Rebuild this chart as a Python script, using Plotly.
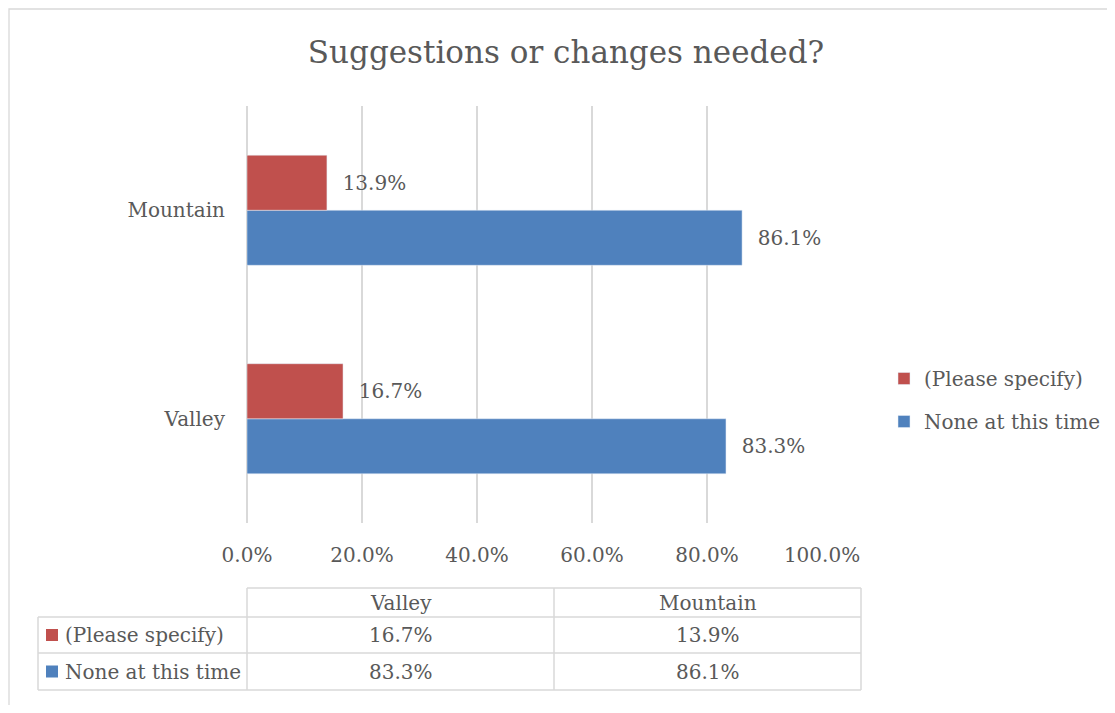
import plotly.graph_objects as go

# ---- data ----
categories = ["Valley", "Mountain"]
series_names = ["(Please specify)", "None at this time"]
please_specify = [0.167, 0.139]
none_at_this_time = [0.833, 0.861]
tick_values = [0.0, 0.2, 0.4, 0.6, 0.8, 1.0]

# ---- style ----
RED = "#C0504D"
BLUE = "#4F81BD"
TXT = "#595959"
GRID = "#D9D9D9"
FONT = "DejaVu Serif"

OFF = 8  # page body margin
W, H = 1115 - 2 * OFF, 713 - 2 * OFF
# target plot area in screen pixels: x 247..822, y 106..523
L = 247 - OFF
T = 106 - OFF
R = W - (822 - OFF)
B = H - (523 - OFF)
PW, PH = W - L - R, H - T - B


def px(x):
    """screen pixel x -> paper coord"""
    return (x - OFF - L) / PW


def py(y):
    """screen pixel y -> paper coord"""
    return (H - B - (y - OFF)) / PH


fig = go.Figure()
fig.add_trace(go.Bar(
    y=categories, x=none_at_this_time, name=series_names[1], orientation="h",
    marker=dict(color=BLUE), legendgroup="b", legendrank=2,
    text=none_at_this_time, texttemplate="\u00a0\u00a0%{x:.1%}", textposition="outside",
    textfont=dict(family=FONT, size=20, color=TXT), cliponaxis=False,
))
fig.add_trace(go.Bar(
    y=categories, x=please_specify, name=series_names[0], orientation="h",
    marker=dict(color=RED), legendgroup="a", legendrank=1,
    text=please_specify, texttemplate="\u00a0\u00a0%{x:.1%}", textposition="outside",
    textfont=dict(family=FONT, size=20, color=TXT), cliponaxis=False,
))

shapes = []
annotations = []

# outer chart border
shapes.append(dict(type="rect", xref="paper", yref="paper",
                   x0=px(9), x1=px(1130), y0=py(730), y1=py(9),
                   line=dict(color=GRID, width=1.3), layer="below"))

# data table
col_x = [38, 247, 554, 861]
row_y = [588, 617, 653, 690]
lc = dict(color=GRID, width=1.5)
shapes.append(dict(type="line", xref="paper", yref="paper", x0=px(col_x[1]), x1=px(col_x[3]),
                   y0=py(row_y[0]), y1=py(row_y[0]), line=lc))
for yy in row_y[1:]:
    shapes.append(dict(type="line", xref="paper", yref="paper", x0=px(col_x[0]), x1=px(col_x[3]),
                       y0=py(yy), y1=py(yy), line=lc))
shapes.append(dict(type="line", xref="paper", yref="paper", x0=px(col_x[0]), x1=px(col_x[0]),
                   y0=py(row_y[1]), y1=py(row_y[3]), line=lc))
for xx in col_x[1:]:
    shapes.append(dict(type="line", xref="paper", yref="paper", x0=px(xx), x1=px(xx),
                       y0=py(row_y[0]), y1=py(row_y[3]), line=lc))

tf = dict(family=FONT, size=20, color=TXT)
for i, cat in enumerate(categories):
    cx = (col_x[i + 1] + col_x[i + 2]) / 2
    annotations.append(dict(xref="paper", yref="paper", x=px(cx), y=py((row_y[0] + row_y[1]) / 2),
                            text=cat, showarrow=False, font=tf, xanchor="center", yanchor="middle"))
rows = [(series_names[0], please_specify, RED), (series_names[1], none_at_this_time, BLUE)]
for r, (name, vals, col) in enumerate(rows):
    cy = (row_y[r + 1] + row_y[r + 2]) / 2
    shapes.append(dict(type="rect", xref="paper", yref="paper", x0=px(46), x1=px(58),
                       y0=py(cy + 6), y1=py(cy - 6), fillcolor=col, line=dict(width=0)))
    annotations.append(dict(xref="paper", yref="paper", x=px(63), y=py(cy), text=name,
                            showarrow=False, font=tf, xanchor="left", yanchor="middle"))
    for i, v in enumerate(vals):
        cx = (col_x[i + 1] + col_x[i + 2]) / 2
        annotations.append(dict(xref="paper", yref="paper", x=px(cx), y=py(cy), text=f"{v:.1%}",
                                showarrow=False, font=tf, xanchor="center", yanchor="middle"))

fig.update_layout(
    width=W, height=H,
    margin=dict(l=L, r=R, t=T, b=B, autoexpand=False),
    paper_bgcolor="white", plot_bgcolor="white",
    title=dict(text="Suggestions or changes needed?", x=(566 - OFF) / W, xanchor="center",
               xref="container", y=1 - (52 - OFF) / H, yanchor="middle", yref="container",
               font=dict(family=FONT, size=31, color=TXT)),
    barmode="group", bargap=0.472, bargroupgap=0,
    font=dict(family=FONT, size=20, color=TXT),
    xaxis=dict(range=[0, 1], tickvals=tick_values, tickformat=".1%", showgrid=True,
               gridcolor=GRID, gridwidth=1.5, zeroline=True, zerolinecolor=GRID, zerolinewidth=1.5,
               showline=False, ticks="", ticklabelstandoff=18,
               tickfont=dict(family=FONT, size=20, color=TXT), fixedrange=True),
    yaxis=dict(showgrid=False, zeroline=False, showline=False, ticks="", ticklabelstandoff=21,
               tickfont=dict(family=FONT, size=20, color=TXT), fixedrange=True),
    showlegend=True,
    legend=dict(x=px(884), xanchor="left", y=py(359), yanchor="top",
                traceorder="grouped", tracegroupgap=14,
                font=dict(family=FONT, size=20, color=TXT), bgcolor="rgba(0,0,0,0)"),
    shapes=shapes, annotations=annotations,
)

fig.write_html("out.html")
